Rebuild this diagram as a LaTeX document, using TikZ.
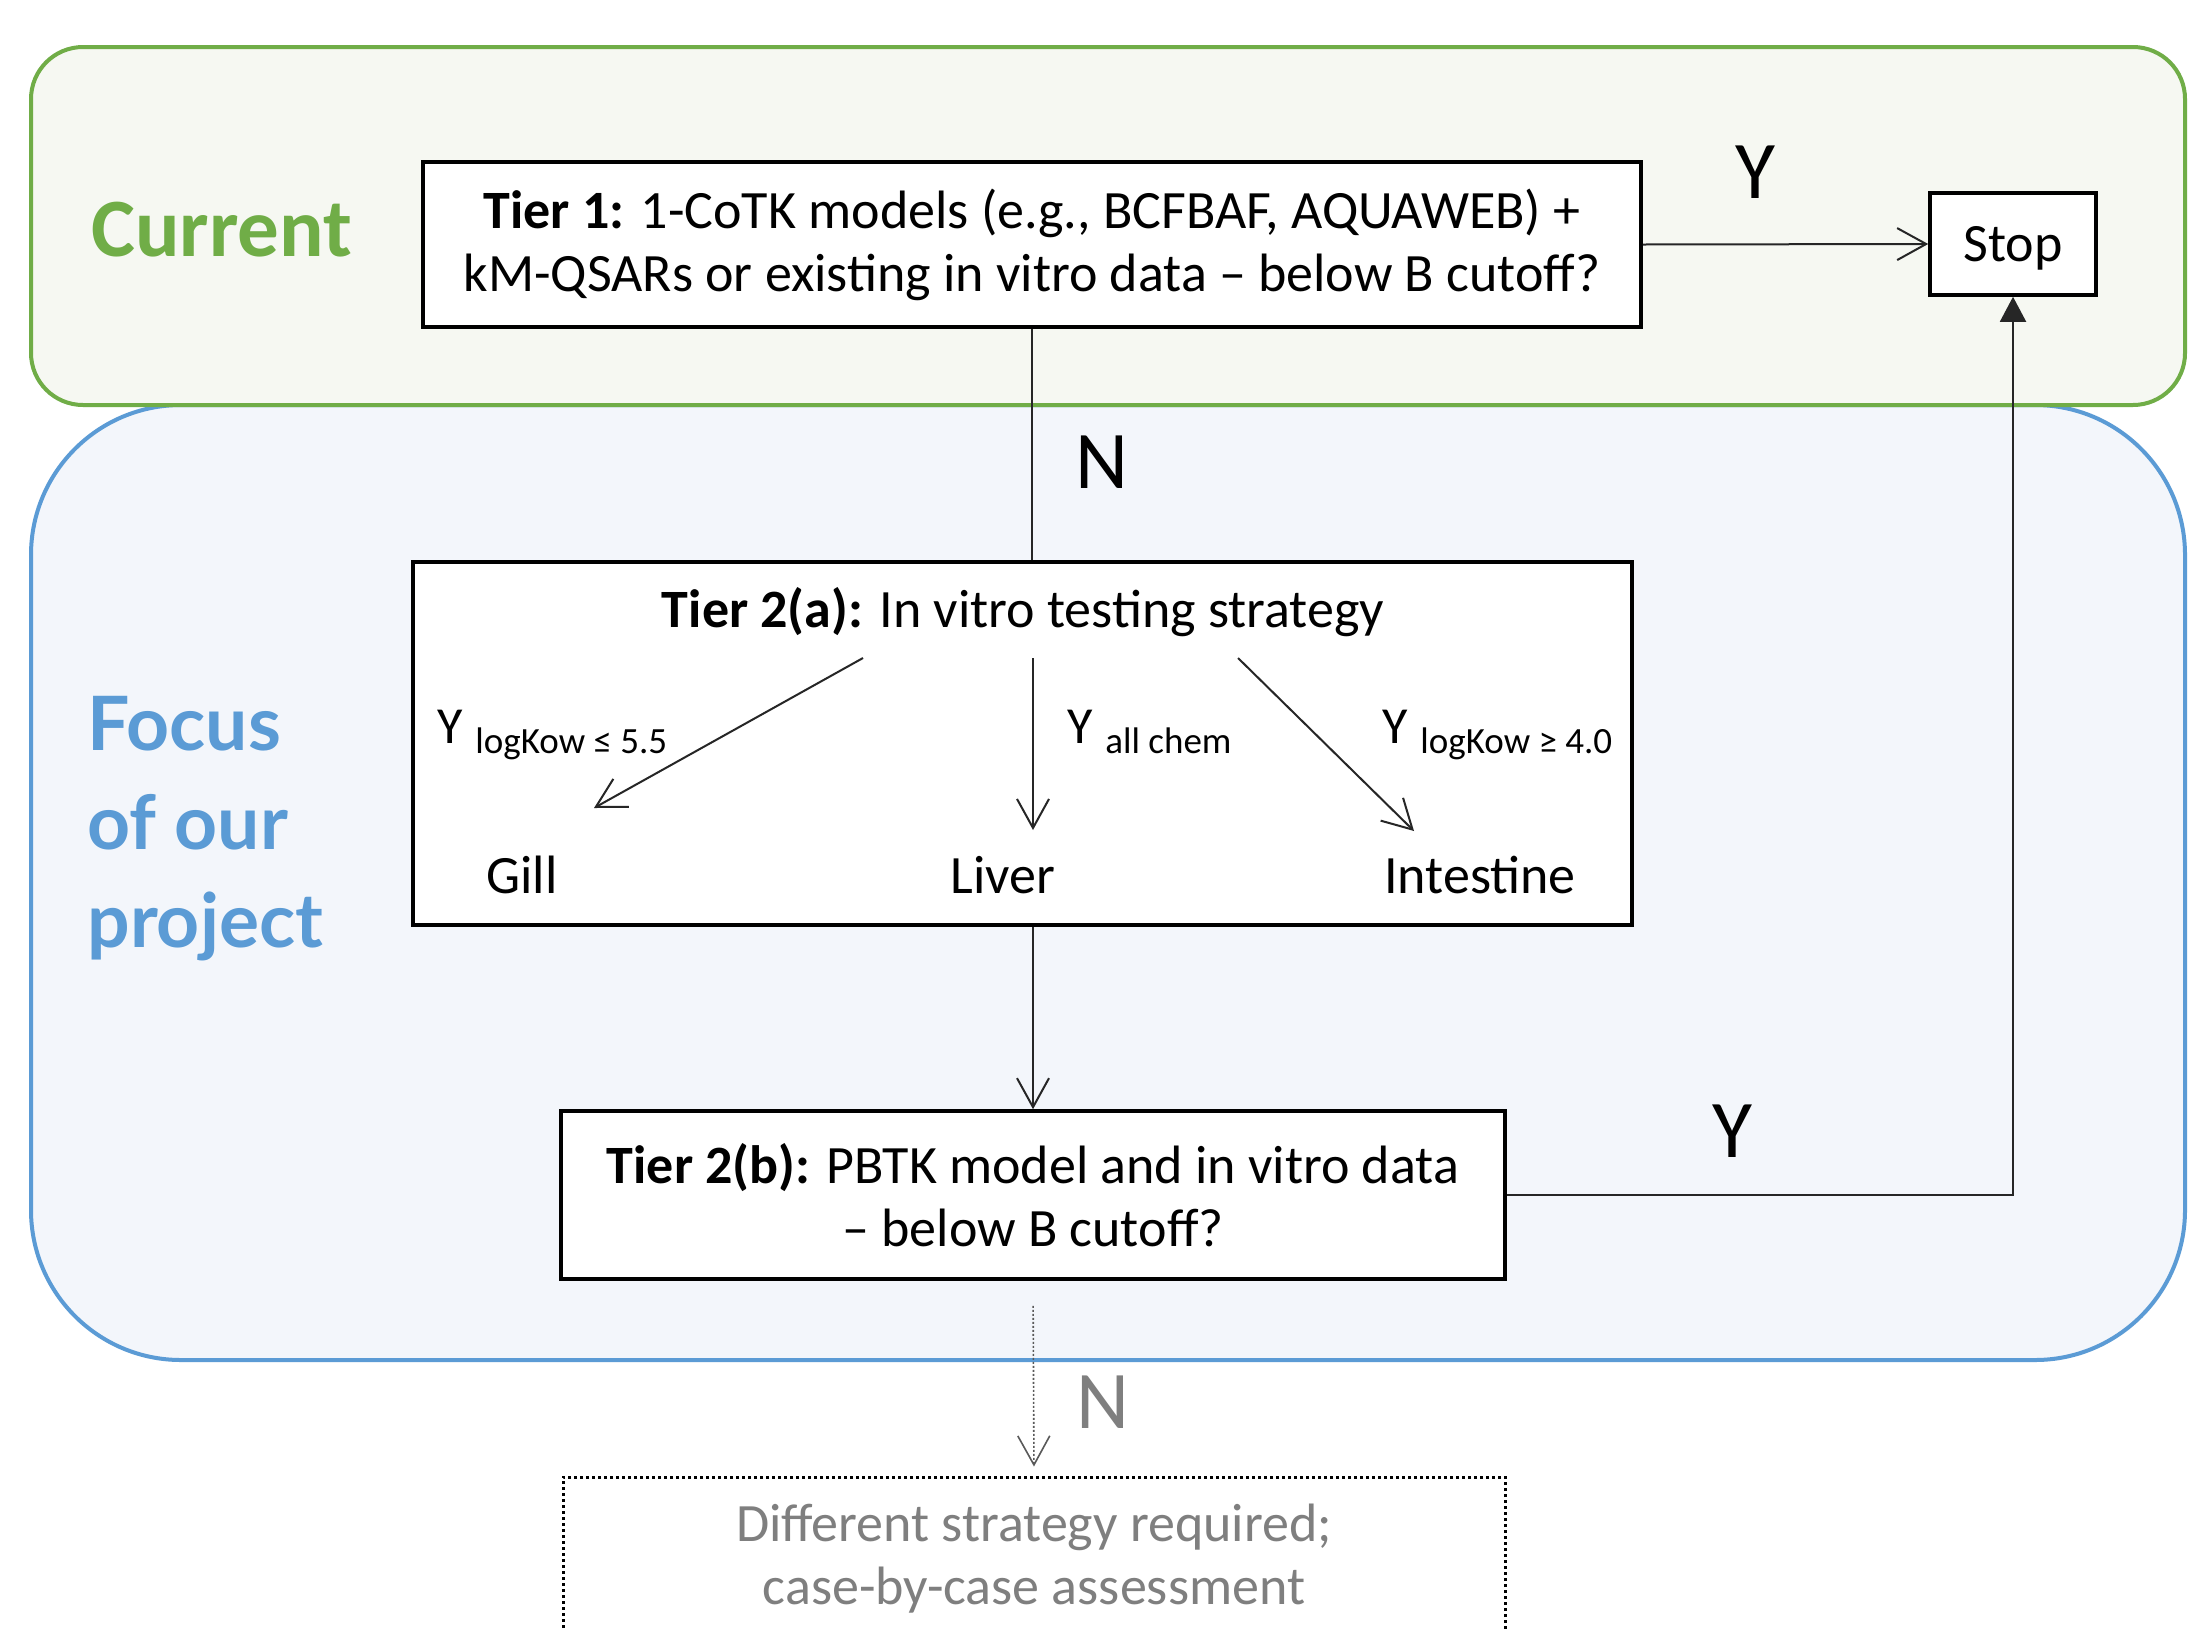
\documentclass[tikz,border=0pt]{standalone}
\usepackage{fontspec}
\setmainfont{Carlito}
\newfontfamily\focusfont{Lato}
\usetikzlibrary{arrows.meta}
\definecolor{gline}{HTML}{70AD47}
\definecolor{gfill}{HTML}{F6F8F2}
\definecolor{bline}{HTML}{5B9BD5}
\definecolor{bfill}{HTML}{F3F6FB}
\definecolor{txtgray}{HTML}{7F7F7F}
\tikzset{
  box/.style={draw, line width=1.8pt, fill=white, inner sep=0pt, align=center,
    font=\fontsize{27}{31.5}\selectfont},
  con/.style={line width=1pt, draw=black!85},
  opentip/.style={-{Straight Barb[length=14.5pt,width=16pt,line width=1pt]}},
  biglabel/.style={anchor=base, inner sep=0pt, font=\fontsize{41}{49}\selectfont},
  plain/.style={anchor=base, inner sep=0pt, font=\fontsize{27}{31.5}\selectfont},
  ylab/.style={anchor=base west, inner sep=0pt, font=\fontsize{26}{31.5}\selectfont},
  sublab/.style={anchor=base west, inner sep=0pt, font=\fontsize{18.5}{22}\selectfont},
  focustxt/.style={anchor=base west, inner sep=0pt, text=bline,
    font=\focusfont\bfseries\fontsize{37.5}{49}\selectfont},
}
\begin{document}
\begin{tikzpicture}[x=0.5pt,y=-0.5pt]
\clip (0,0) rectangle (2188,1628);
\fill[white] (0,0) rectangle (2188,1628);
% regions
\draw[bline, line width=2pt, fill=bfill, rounded corners=75pt] (31,405) rectangle (2185,1360);
\draw[gline, line width=2pt, fill=gfill, rounded corners=26pt] (31,47) rectangle (2185,405);
% region titles
\node[anchor=base west, inner sep=0pt, text=gline, font=\bfseries\fontsize{41.5}{49}\selectfont] (current) at (91,256) {Current};
\node[focustxt] (focus1) at (87,750) {Focus};
\node[focustxt] (focus2) at (87,849) {of our};
\node[focustxt] (focus3) at (87,947) {project};
% boxes
\node[box, minimum width=609pt, minimum height=82.5pt] (tier1) at (1032,244.5)
  {\textbf{Tier 1:} 1-CoTK models (e.g., BCFBAF, AQUAWEB) +\\kM-QSARs or existing in vitro data -- below B cutoff?};
\node[box, minimum width=83pt, minimum height=51pt, text height=17.4pt, text depth=0pt] (stop) at (2013,244) {Stop};
\node[box, minimum width=609.5pt, minimum height=181.5pt] (tier2a) at (1022.5,743.5) {};
\node[box, minimum width=472pt, minimum height=84pt] (tier2b) at (1033,1195)
  {\textbf{Tier 2(b):} PBTK model and in vitro data\\-- below B cutoff?};
\node[box, draw=black, dash pattern=on 1.5pt off 1.5pt, line width=1.5pt, fill=none, text=txtgray,
  minimum width=471pt, minimum height=82pt] (diff) at (1034,1559)
  {Different strategy required;\\case-by-case assessment};
% tier 2a contents
\node[plain] (t2atitle) at (1023,627) {\textbf{Tier 2(a):} In vitro testing strategy};
\node[plain] (gill) at (522,893) {Gill};
\node[plain] (liver) at (1003,893) {Liver};
\node[plain] (intestine) at (1480,893) {Intestine};
\node[ylab] (yg) at (437,743) {Y};
\node[sublab] (yg2) at (475,753) {logKow ≤ 5.5};
\node[ylab] (yl) at (1067,743) {Y};
\node[sublab] (yl2) at (1105,753) {all chem};
\node[ylab] (yi) at (1382,743) {Y};
\node[sublab] (yi2) at (1420,753) {logKow ≥ 4.0};
\coordinate (ga) at (863,658); \coordinate (gb) at (594,808);
\coordinate (la) at (1033,658); \coordinate (lb) at (1033,830);
\coordinate (ia) at (1238,658); \coordinate (ib) at (1414,831);
\draw[con, opentip] (ga) -- (gb);
\draw[con, opentip] (la) -- (lb);
\draw[con, opentip] (ia) -- (ib);
% labels
\node[biglabel] (ytop) at (1755,198) {Y};
\node[biglabel] (ntop) at (1102,488) {N};
\node[biglabel] (ybot) at (1732,1157) {Y};
\node[biglabel, text=txtgray] (nbot) at (1103,1428) {N};
% connectors
\draw[con, opentip] (tier1.east) -- (stop.west);
\draw[con] (tier1.south) -- (tier1.south |- tier2a.north);
\draw[con, opentip] (tier2b.north |- tier2a.south) -- (tier2b.north);
\draw[con, -{Triangle[length=12.5pt,width=13pt]}] (tier2b.east) -| (stop.south);
\draw[line width=0.8pt, draw=black!65, dash pattern=on 1pt off 1pt, shorten <=12.5pt, shorten >=4.5pt,
  -{Straight Barb[length=14.5pt,width=16pt,line width=0.8pt]}] (tier2b.south) -- (diff.north);
\end{tikzpicture}
\end{document}
